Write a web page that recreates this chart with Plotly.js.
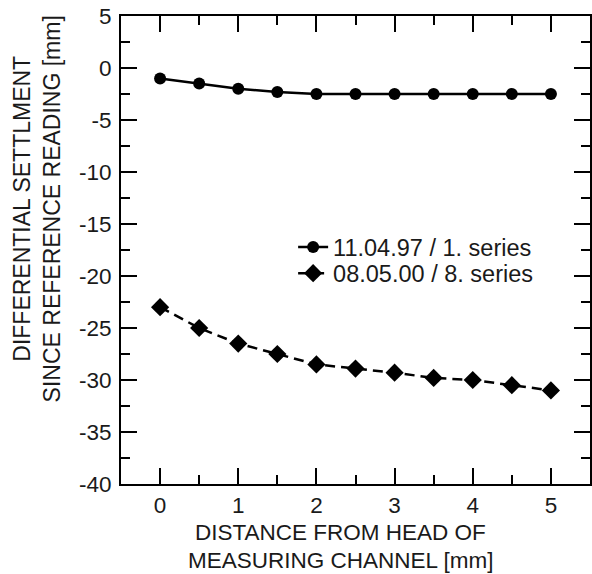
<!DOCTYPE html>
<html>
<head>
<meta charset="utf-8">
<script src="https://cdn.plot.ly/plotly-3.0.1.min.js"></script>
<style>html,body{margin:0;padding:0;background:#fff;}#chart{width:592px;height:574px;}</style>
</head>
<body>
<div id="chart"></div>
<script>
const distance = [0, 0.5, 1, 1.5, 2, 2.5, 3, 3.5, 4, 4.5, 5];
const series1Name = "11.04.97 / 1. series";
const series1 = [-1, -1.5, -2, -2.3, -2.5, -2.5, -2.5, -2.5, -2.5, -2.5, -2.5];
const series8Name = "08.05.00 / 8. series";
const series8 = [-23, -25, -26.5, -27.5, -28.5, -28.9, -29.3, -29.8, -30, -30.5, -31];
const xTickVals = [0, 1, 2, 3, 4, 5];
const yTickVals = [5, 0, -5, -10, -15, -20, -25, -30, -35, -40];
const xTitleLine1 = "DISTANCE FROM HEAD OF";
const xTitleLine2 = "MEASURING CHANNEL [mm]";
const yTitle = "DIFFERENTIAL SETTLMENT<br>SINCE REFERENCE READING [mm]";

const ink = "#1a1a1a";
const fontFam = "Liberation Sans, Arial, sans-serif";

const traces = [
  {
    x: distance, y: series1, name: series1Name, type: "scatter", mode: "lines+markers",
    legend: "legend",
    line: {color: "#000", width: 2.5},
    marker: {symbol: "circle", size: 12, color: "#000"}
  },
  {
    x: distance, y: series8, name: series8Name, type: "scatter", mode: "lines+markers",
    legend: "legend2",
    line: {color: "#000", width: 2.5, dash: "10px,6px"},
    marker: {symbol: "diamond", size: 14, color: "#000"}
  }
];

const axisCommon = {
  showgrid: false, zeroline: false, showline: true, linecolor: "#000", linewidth: 2,
  mirror: "ticks", ticks: "inside", ticklen: 16, tickwidth: 2, tickcolor: "#000",
  tickfont: {family: fontFam, size: 22.5, color: ink}
};

const legendCommon = {xanchor: "left", yanchor: "top", bgcolor: "rgba(0,0,0,0)",
  font: {family: fontFam, size: 23.5, color: ink}};

const titleFont = {family: fontFam, size: 22.5, color: ink};

const layout = {
  width: 592, height: 574,
  margin: {l: 121, r: 2, t: 16, b: 90},
  paper_bgcolor: "#fff", plot_bgcolor: "#fff",
  font: {family: fontFam, color: ink, size: 22.5},
  showlegend: true,
  legend: Object.assign({}, legendCommon, {x: 0.367, y: 0.553}),
  legend2: Object.assign({}, legendCommon, {x: 0.367, y: 0.497}),
  xaxis: Object.assign({}, axisCommon, {
    range: [-0.5, 5.5], tickvals: xTickVals, ticktext: xTickVals.map(String),
    ticklabelstandoff: 0,
    minor: {dtick: 0.5, tick0: 0, ticks: "inside", ticklen: 9, tickwidth: 2, tickcolor: "#000", showgrid: false}
  }),
  yaxis: Object.assign({}, axisCommon, {
    range: [-40, 5], tickvals: yTickVals, ticktext: yTickVals.map(String),
    ticklabelstandoff: 3,
    minor: {dtick: 2.5, tick0: 0, ticks: "inside", ticklen: 9, tickwidth: 2, tickcolor: "#000", showgrid: false}
  }),
  annotations: [
    {text: xTitleLine1, xref: "paper", yref: "paper", x: 0.468, y: -0.1026, xanchor: "center", yanchor: "middle",
     borderpad: 0, showarrow: false, font: titleFont},
    {text: xTitleLine2, xref: "paper", yref: "paper", x: 0.468, y: -0.1624, xanchor: "center", yanchor: "middle",
     borderpad: 0, showarrow: false, font: titleFont},
    {text: yTitle, xref: "paper", yref: "paper", x: -0.18, y: 0.588, xanchor: "center", yanchor: "middle",
     textangle: -90, showarrow: false, font: {family: fontFam, size: 23, color: ink}}
  ]
};

Plotly.newPlot("chart", traces, layout, {staticPlot: true, displayModeBar: false});
</script>
</body>
</html>
